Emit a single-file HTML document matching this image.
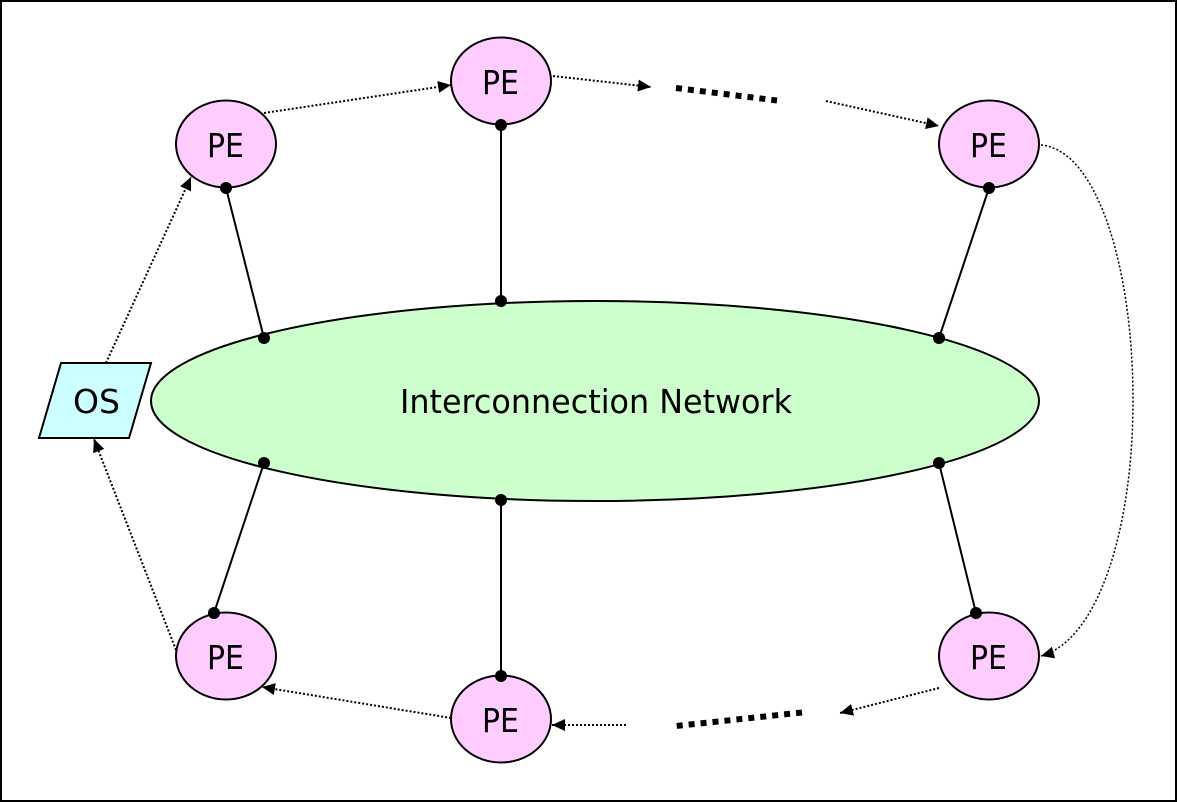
<!DOCTYPE html>
<html lang="en">
<head>
<meta charset="utf-8">
<title>Interconnection Network</title>
<style>
html,body{margin:0;padding:0;background:#fff;width:1177px;height:802px;overflow:hidden}
svg{display:block}
text{font-family:"DejaVu Sans","Liberation Sans",sans-serif;fill:#000}
.pe{fill:#ffccff;stroke:#000;stroke-width:2}
.solid{stroke:#000;stroke-width:2;fill:none}
.dot{stroke:#000;stroke-width:2;stroke-dasharray:2 2;fill:none;marker-end:url(#a)}
.thick{stroke:#000;stroke-width:6;stroke-dasharray:6 6;fill:none}
</style>
</head>
<body>
<svg width="1177" height="802" viewBox="0 0 1177 802" xmlns="http://www.w3.org/2000/svg">
<defs>
<marker id="a" markerUnits="userSpaceOnUse" markerWidth="14" markerHeight="14" refX="13" refY="6.500" orient="auto">
<path d="M0 0.500L13 6.500L0 12.500z" fill="#000"/>
</marker>
</defs>
<rect x="1" y="1" width="1175" height="800" fill="#fff" stroke="#000" stroke-width="2"/>

<ellipse cx="595" cy="401" rx="444" ry="100" fill="#ccffcc" stroke="#000" stroke-width="2"/>
<polygon points="61,363 151,363 129,438 39,438" fill="#ccffff" stroke="#000" stroke-width="2"/>

<ellipse class="pe" cx="226" cy="144" rx="50" ry="43.500"/>
<ellipse class="pe" cx="501" cy="81" rx="50" ry="43.500"/>
<ellipse class="pe" cx="989" cy="144" rx="50" ry="43.500"/>
<ellipse class="pe" cx="226" cy="656" rx="50" ry="43.500"/>
<ellipse class="pe" cx="501" cy="719" rx="50" ry="43.500"/>
<ellipse class="pe" cx="989" cy="656" rx="50" ry="43.500"/>

<line class="solid" x1="226" y1="188" x2="264" y2="338"/>
<line class="solid" x1="501" y1="125" x2="501" y2="301"/>
<line class="solid" x1="989" y1="188" x2="939" y2="338"/>
<line class="solid" x1="264" y1="463" x2="214" y2="613"/>
<line class="solid" x1="501" y1="500" x2="501" y2="676"/>
<line class="solid" x1="939" y1="463" x2="976" y2="613"/>

<g fill="#000">
<circle cx="226" cy="188" r="6"/><circle cx="264" cy="338" r="6"/>
<circle cx="501" cy="125" r="6"/><circle cx="501" cy="301" r="6"/>
<circle cx="989" cy="188" r="6"/><circle cx="939" cy="338" r="6"/>
<circle cx="264" cy="463" r="6"/><circle cx="214" cy="613" r="6"/>
<circle cx="501" cy="500" r="6"/><circle cx="501" cy="676" r="6"/>
<circle cx="939" cy="463" r="6"/><circle cx="976" cy="613" r="6"/>
</g>

<path class="dot" d="M264 113L451 85"/>
<path class="dot" d="M553 76L651 87"/>
<path class="thick" d="M676 88L777 100.500"/>
<path class="dot" d="M826 101L939 126"/>
<path class="dot" style="stroke-width:1.500" d="M1041 145C1098 150 1133 270 1133 400C1133 530 1098 640 1041 656"/>
<path class="dot" d="M939 688L840 713"/>
<path class="thick" d="M802 712.500L676 726"/>
<path class="dot" d="M626 725L552 725"/>
<path class="dot" d="M451 718L262 687"/>
<path class="dot" d="M176 650L94 439"/>
<path class="dot" d="M106 363L191 177"/>

<g font-size="33">
<text x="207" y="157" textLength="37" lengthAdjust="spacingAndGlyphs">PE</text>
<text x="482" y="94" textLength="37" lengthAdjust="spacingAndGlyphs">PE</text>
<text x="970" y="157" textLength="37" lengthAdjust="spacingAndGlyphs">PE</text>
<text x="207" y="669" textLength="37" lengthAdjust="spacingAndGlyphs">PE</text>
<text x="482" y="732" textLength="37" lengthAdjust="spacingAndGlyphs">PE</text>
<text x="970" y="669" textLength="37" lengthAdjust="spacingAndGlyphs">PE</text>
<text x="73" y="413" textLength="47" lengthAdjust="spacingAndGlyphs">OS</text>
<text x="400" y="413" textLength="392" lengthAdjust="spacingAndGlyphs">Interconnection Network</text>
</g>
</svg>
</body>
</html>
